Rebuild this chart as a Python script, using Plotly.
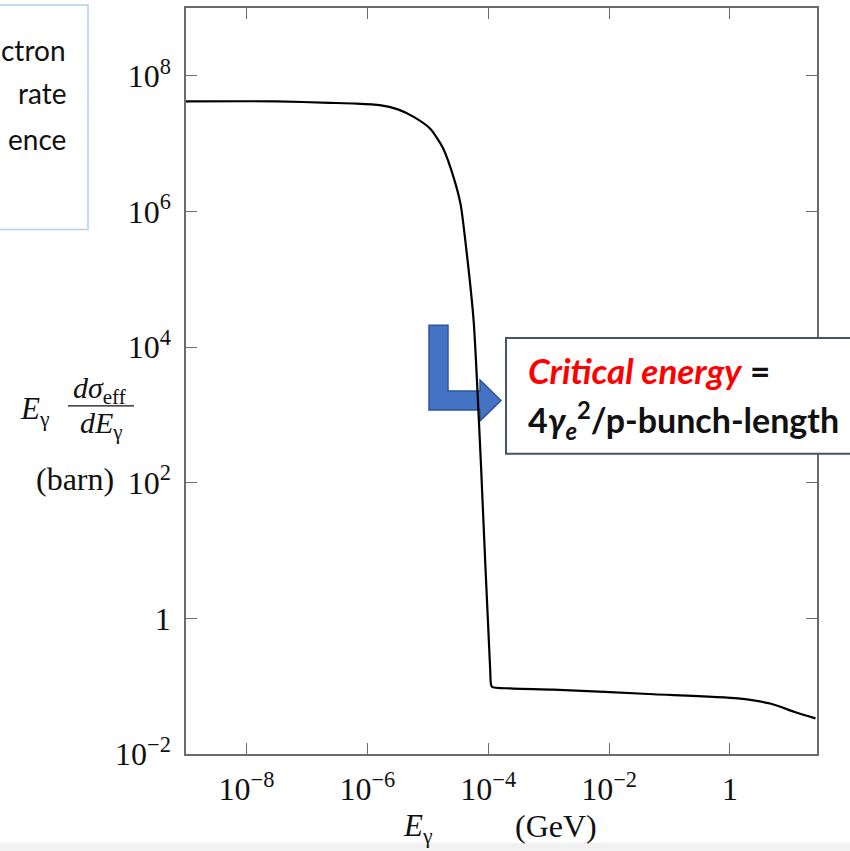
import plotly.graph_objects as go

# ---- data ----
E_gev = [1e-9, 3.2e-8, 2.4e-7, 6.5e-7, 1.6e-6, 3.2e-6, 5.75e-6, 1.1e-5, 1.8e-5,
         2.7e-5, 3.5e-5, 4.2e-5, 5.75e-5, 7.6e-5, 1.08e-4, 1.15e-4, 2.3e-4,
         1.2e-3, 5.5e-2, 1.35, 4.8, 11.5, 26.0]
sigma_barn = [4.2e7, 4.2e7, 4.0e7, 3.9e7, 3.7e7, 3.2e7, 2.5e7, 1.66e7, 8.5e6,
              3.1e6, 1.26e6, 3.6e5, 2.4e4, 1.8e2, 0.17, 0.098, 0.093,
              0.089, 0.076, 0.066, 0.055, 0.042, 0.0335]

x_tickvals = [1e-8, 1e-6, 1e-4, 1e-2, 1]
x_ticktext = ["10<sup>−8</sup>", "10<sup>−6</sup>", "10<sup>−4</sup>", "10<sup>−2</sup>", "1"]
y_tickvals = [1e-2, 1, 1e2, 1e4, 1e6, 1e8]
y_ticktext = ["10<sup>−2</sup>", "1", "10<sup>2</sup>", "10<sup>4</sup>", "10<sup>6</sup>", "10<sup>8</sup>"]

side_text = ["ctron", "rate", "ence"]

# ---- layout geometry (pixels) ----
FW, FH = 850, 851
L, R, T, B = 186, 817, 6, 754
PW, PH = R - L, B - T


def px(x):
    return (x - L) / PW


def py(y):
    return (B - y) / PH


SERIF = "Liberation Serif"
SANS = "Lato"
AXC = "#6b6b6b"

fig = go.Figure()
fig.add_trace(go.Scatter(x=E_gev, y=sigma_barn, mode="lines",
                         line=dict(color="black", width=2.2, shape="spline", smoothing=0.6),
                         showlegend=False, hoverinfo="skip"))

axis_common = dict(showgrid=False, zeroline=False, showline=True, linecolor=AXC,
                   linewidth=1.5, mirror="ticks", ticks="inside", ticklen=11,
                   tickwidth=1.3, tickcolor=AXC,
                   tickfont=dict(family=SERIF, size=32, color="#111"))

fig.update_xaxes(type="log", range=[-9, 1.44], tickvals=x_tickvals,
                 ticktext=x_ticktext, ticklabelstandoff=6, **axis_common)
fig.update_yaxes(type="log", range=[-2, 9], tickvals=y_tickvals,
                 ticktext=y_ticktext, ticklabelstandoff=7, **axis_common)

shapes = []
# blue L arrow (below the curve)
pts = [(429, 324), (448, 324), (448, 390), (480, 390), (480, 379), (501, 399.5),
       (480, 420), (480, 409), (429, 409)]
path = "M " + " L ".join(f"{px(a):.5f},{py(b):.5f}" for a, b in pts) + " Z"
shapes.append(dict(type="path", xref="paper", yref="paper", path=path,
                   fillcolor="#4472C4", line=dict(color="#2F5597", width=1.5),
                   layer="below"))
# annotation box (above axis line)
shapes.append(dict(type="rect", xref="paper", yref="paper",
                   x0=px(506), x1=px(870), y0=py(453), y1=py(337),
                   fillcolor="white", line=dict(color="#44546A", width=2),
                   layer="above"))
# top-left text box
shapes.append(dict(type="rect", xref="paper", yref="paper",
                   x0=px(-5), x1=px(88), y0=py(228), y1=py(3),
                   fillcolor="rgba(0,0,0,0)", line=dict(color="#b7d0e8", width=1.5),
                   layer="above"))
# fraction bar of y label
shapes.append(dict(type="line", xref="paper", yref="paper",
                   x0=px(68), x1=px(134), y0=py(405), y1=py(405),
                   line=dict(color="#111", width=1.2)))
# bottom light band
shapes.append(dict(type="rect", xref="paper", yref="paper",
                   x0=px(0), x1=px(FW), y0=py(FH), y1=py(843),
                   fillcolor="#f1f1f1", line=dict(width=0), layer="below"))

ann = []


def text(x, y, s, size, family, xanchor="center", color="#111"):
    ann.append(dict(x=px(x), y=py(y), xref="paper", yref="paper", text=s,
                    showarrow=False, xanchor=xanchor, yanchor="middle",
                    font=dict(family=family, size=size, color=color)))


# y-axis label
text(35, 410, "<i>E</i><sub>γ</sub>", 31, SERIF)
text(100, 389, "<i>dσ</i><sub>eff</sub>", 30, SERIF)
text(101, 424, "<i>dE</i><sub>γ</sub>", 30, SERIF)
text(75, 478, "(barn)", 32, SERIF)
# x-axis label
text(418, 828, "<i>E</i><sub>γ</sub>", 31, SERIF)
text(556, 826, "(GeV)", 32, SERIF)
# side text box
for yy, s in zip([48, 91, 137], side_text):
    text(68, yy, s, 28, SANS, xanchor="right")
# critical energy box text
text(526, 369, "<b><i><span style='color:#ff0000'>Critical energy</span></i> =</b>", 35,
     SANS, xanchor="left")
text(526, 420, "<b>4<i>γ</i><sub><i>e</i></sub><sup>2</sup>/p-bunch-length</b>", 34,
     SANS, xanchor="left")

fig.update_layout(width=FW, height=FH, autosize=False,
                  margin=dict(l=L, r=FW - R, t=T, b=FH - B, pad=0),
                  paper_bgcolor="white", plot_bgcolor="white",
                  shapes=shapes, annotations=ann, showlegend=False)

fig.write_html("out.html", config={"displayModeBar": False},
               post_script="document.body.style.margin='0px';")
